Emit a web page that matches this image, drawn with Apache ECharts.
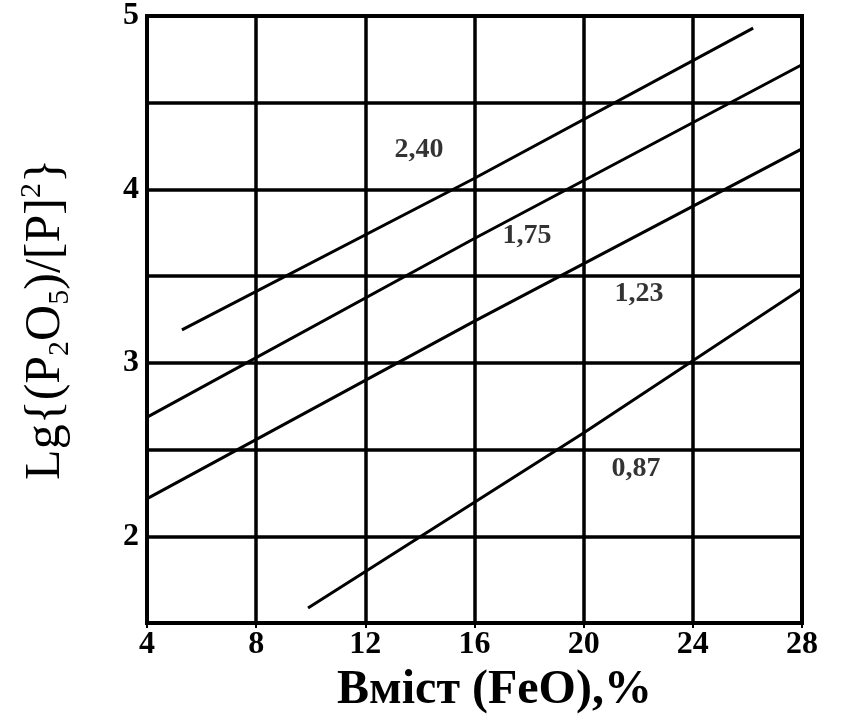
<!DOCTYPE html>
<html>
<head>
<meta charset="utf-8">
<script src="https://cdn.jsdelivr.net/npm/echarts@6/dist/echarts.min.js"></script>
<style>
html,body{margin:0;padding:0;background:#fff;}
#chart{width:856px;height:722px;}
</style>
</head>
<body>
<div id="chart"></div>
<script>
// ---- data ----
const xTicks = [4, 8, 12, 16, 20, 24, 28];
const yTicks = [2, 3, 4, 5];
const line240 = [[5.28, 3.19], [15.95, 4.06], [26.21, 4.93]];
const line175 = [[4.04, 2.69], [15.91, 3.71], [28.55, 4.765]];
const line123 = [[4.04, 2.22], [15.95, 3.236], [28.55, 4.28]];
const line087 = [[9.9, 1.586], [19.98, 2.594], [28.59, 3.49]];
const curveNames = ['2,40', '1,75', '1,23', '0,87'];
const curveLabelPos = [[13.97, 4.23], [17.92, 3.73], [22.03, 3.40], [21.92, 2.39]];
const xTitle = 'Вміст (FeO),%';
const yTitle = 'Lg{(P{s|2}O{s|5})/[P]{p|2}}';

const serif = '"Liberation Serif", "DejaVu Serif", serif';
const chart = echarts.init(document.getElementById('chart'), null, {renderer: 'canvas'});

function lineSeries(name, data) {
  return {
    name: name, type: 'line', data: data, symbol: 'none', clip: false,
    lineStyle: {color: '#000', width: 3}, silent: true, z: 5
  };
}

const option = {
  backgroundColor: '#fff',
  animation: false,
  grid: {left: 147, right: 54, top: 12, bottom: 99, show: true, borderColor: '#000', borderWidth: 4, backgroundColor: 'transparent'},
  xAxis: {
    type: 'value', min: xTicks[0], max: xTicks[xTicks.length - 1], interval: 4,
    axisLine: {show: true, lineStyle: {color: '#000', width: 4}},
    axisTick: {show: true, length: 5, lineStyle: {color: '#000', width: 2}},
    splitLine: {show: true, lineStyle: {color: '#000', width: 3.5}},
    axisLabel: {show: true, color: '#000', fontFamily: serif, fontWeight: 'bold', fontSize: 32, margin: 6},
    name: xTitle, nameLocation: 'middle', nameGap: 44,
    nameTextStyle: {color: '#000', fontFamily: serif, fontWeight: 'bold', fontSize: 48, padding: [0, 0, 0, 40]}
  },
  yAxis: {
    type: 'value', min: 1.5, max: 5, interval: 0.5,
    axisLine: {show: true, lineStyle: {color: '#000', width: 4}},
    axisTick: {show: false},
    splitLine: {show: true, lineStyle: {color: '#000', width: 3.5}},
    axisLabel: {
      show: true, color: '#000', fontFamily: serif, fontWeight: 'bold', fontSize: 32, margin: 8,
      formatter: function (v) { return yTicks.indexOf(v) >= 0 ? String(v) : ''; }
    },
    name: yTitle, nameLocation: 'middle', nameGap: 72, nameRotate: 90,
    nameTextStyle: {
      color: '#000', fontFamily: serif, fontSize: 50, lineHeight: 58,
      rich: {
        s: {color: '#000', fontFamily: serif, fontSize: 30, lineHeight: 30, verticalAlign: 'bottom'},
        p: {color: '#000', fontFamily: serif, fontSize: 30, lineHeight: 30, verticalAlign: 'top'}
      }
    }
  },
  series: [
    lineSeries(curveNames[0], line240),
    lineSeries(curveNames[1], line175),
    lineSeries(curveNames[2], line123),
    lineSeries(curveNames[3], line087),
    {
      name: 'labels', type: 'scatter', symbolSize: 0, silent: true, z: 6,
      data: curveLabelPos.map(function (p, i) { return {value: p, name: curveNames[i]}; }),
      label: {
        show: true, position: 'inside', formatter: '{b}',
        color: '#000', fontFamily: serif, fontWeight: 'bold', fontSize: 28
      }
    }
  ]
};
chart.setOption(option);
</script>
</body>
</html>
